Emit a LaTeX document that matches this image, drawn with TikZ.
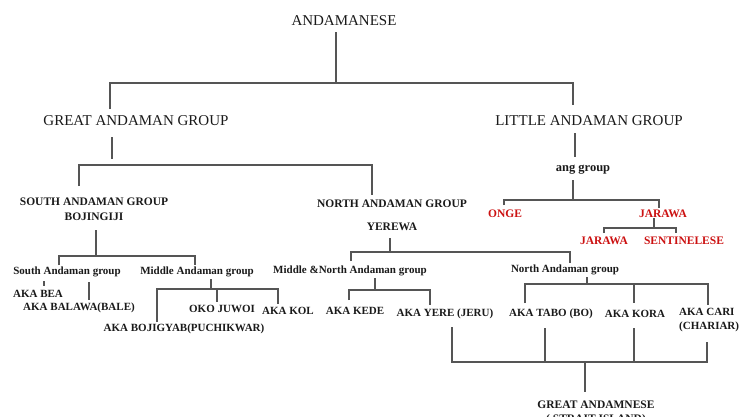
\documentclass[tikz,border=0pt]{standalone}
\usepackage{fontspec}
\setmainfont{Liberation Serif}
\definecolor{linegray}{HTML}{555555}
\definecolor{txt}{HTML}{1A1A1A}
\definecolor{redtxt}{HTML}{CC1111}
\begin{document}
\begin{tikzpicture}[x=1pt,y=-1pt,
  big/.style={inner sep=0pt,text=txt,font=\fontsize{15}{17}\selectfont},
  med/.style={inner sep=0pt,text=txt,font=\bfseries\fontsize{11.5}{15}\selectfont,align=center},
  sml/.style={inner sep=0pt,text=txt,font=\bfseries\fontsize{11}{14.5}\selectfont},
  redl/.style={inner sep=0pt,text=redtxt,font=\bfseries\fontsize{11.5}{14}\selectfont},
  conn/.style={draw=linegray,line width=1.1pt}]
\useasboundingbox[fill=white] (0,0) rectangle (742,416);
% ---- text nodes
\node[big] (a0) at (344,21) {ANDAMANESE};
\node[big] (g1) at (136,121) {GREAT ANDAMAN GROUP};
\node[big] (l1) at (589,121) {LITTLE ANDAMAN GROUP};
\node[med] (sa) at (94,209) {SOUTH ANDAMAN GROUP\\[0pt]BOJINGIJI};
\node[med] (na) at (392,215) {NORTH ANDAMAN GROUP\\[8pt]YEREWA};
\node[med,font=\bfseries\fontsize{12.5}{15}\selectfont] (ang) at (583,170) {ang group};
\node[redl] (onge) at (505,214) {ONGE};
\node[redl] (jar1) at (663,214) {JARAWA};
\node[redl] (jar2) at (604,241) {JARAWA};
\node[redl] (sent) at (684,241) {SENTINELESE};
\node[sml] (sag) at (67,272) {South Andaman group};
\node[sml] (mag) at (197,272) {Middle Andaman group};
\node[sml] (bea) at (38,294) {AKA BEA};
\node[sml] (bal) at (79,308) {AKA BALAWA(BALE)};
\node[sml] (boj) at (184,329) {AKA BOJIGYAB(PUCHIKWAR)};
\node[sml] (oko) at (222,309) {OKO JUWOI};
\node[sml] (kol) at (288,311) {AKA KOL};
\node[sml] (mng) at (350,271) {Middle \&North Andaman group};
\node[sml] (kede) at (355,311) {AKA KEDE};
\node[sml] (yere) at (445,314) {AKA YERE (JERU)};
\node[sml] (nag) at (565,270) {North Andaman group};
\node[sml] (tabo) at (551,314) {AKA TABO (BO)};
\node[sml] (kora) at (635,314) {AKA KORA};
\node[sml,align=left,anchor=west] (cari) at (679,320) {AKA CARI\\(CHARIAR)};
\node[med] (gan) at (596,413) {GREAT ANDAMNESE\\[-1pt]( STRAIT ISLAND)};
% ---- junction coordinates
\coordinate (a0d) at (336,32);   \coordinate (a0j) at (336,83);
\coordinate (b1l) at (110,83);   \coordinate (b1r) at (573,83);
\coordinate (g1u) at (110,109);  \coordinate (l1u) at (573,105);
\coordinate (g1d) at (112,137);  \coordinate (g1j) at (112,159);
\coordinate (b2l) at (79,165);   \coordinate (b2r) at (372,165);
\coordinate (sau) at (79,186);   \coordinate (nau) at (372,195);
\coordinate (l1d) at (575,133);  \coordinate (angu) at (575,157);
\coordinate (angd) at (573,180); \coordinate (angj) at (573,200);
\coordinate (b3l) at (504,200);  \coordinate (b3r) at (659,200);
\coordinate (ongeu) at (504,205); \coordinate (jar1u) at (659,208);
\coordinate (jar1d) at (654,218); \coordinate (jar1j) at (654,228);
\coordinate (b4l) at (604,228);  \coordinate (b4r) at (676,228);
\coordinate (jar2u) at (604,233); \coordinate (sentu) at (676,233);
\coordinate (sad) at (96,230);   \coordinate (saj) at (96,256);
\coordinate (b5l) at (59,256);   \coordinate (b5r) at (195,256);
\coordinate (sagu) at (59,265);  \coordinate (magu) at (195,265);
\coordinate (sagt1) at (44,281); \coordinate (beau) at (44,286);
\coordinate (sagt2) at (89,282); \coordinate (balu) at (89,300);
\coordinate (magd) at (211,279); \coordinate (magj) at (211,289);
\coordinate (b6l) at (157,289);  \coordinate (b6m) at (217,289); \coordinate (b6r) at (278,289);
\coordinate (boju) at (157,322); \coordinate (okou) at (217,302); \coordinate (kolu) at (278,304);
\coordinate (nad) at (390,238);  \coordinate (naj) at (390,252);
\coordinate (b7l) at (351,252);  \coordinate (b7r) at (570,252);
\coordinate (mngu) at (351,261); \coordinate (nagu) at (570,263);
\coordinate (mngd) at (375,278); \coordinate (mngj) at (375,290);
\coordinate (b8l) at (349,290);  \coordinate (b8r) at (430,290);
\coordinate (kedeu) at (349,300); \coordinate (yereu) at (430,305);
\coordinate (nagd) at (587,277); \coordinate (nagj) at (587,284);
\coordinate (b9l) at (525,284);  \coordinate (b9m) at (634,284); \coordinate (b9r) at (708,284);
\coordinate (tabou) at (525,303); \coordinate (korau) at (634,303); \coordinate (cariu) at (708,305);
\coordinate (yered) at (452,327); \coordinate (tabod) at (545,328);
\coordinate (korad) at (634,328); \coordinate (carid) at (707,342);
\coordinate (b10l) at (452,362); \coordinate (b10a) at (545,362);
\coordinate (b10b) at (634,362); \coordinate (b10r) at (707,362);
\coordinate (ganj) at (585,362); \coordinate (ganu) at (585,392);
% ---- connectors
\draw[conn] (a0d) -- (a0j);
\draw[conn] (g1u) -- (b1l) -- (b1r) -- (l1u);
\draw[conn] (g1d) -- (g1j);
\draw[conn] (sau) -- (b2l) -- (b2r) -- (nau);
\draw[conn] (l1d) -- (angu);
\draw[conn] (angd) -- (angj);
\draw[conn] (ongeu) -- (b3l) -- (b3r) -- (jar1u);
\draw[conn] (jar1d) -- (jar1j);
\draw[conn] (jar2u) -- (b4l) -- (b4r) -- (sentu);
\draw[conn] (sad) -- (saj);
\draw[conn] (sagu) -- (b5l) -- (b5r) -- (magu);
\draw[conn] (sagt1) -- (beau);
\draw[conn] (sagt2) -- (balu);
\draw[conn] (magd) -- (magj);
\draw[conn] (boju) -- (b6l) -- (b6r) -- (kolu);
\draw[conn] (b6m) -- (okou);
\draw[conn] (nad) -- (naj);
\draw[conn] (mngu) -- (b7l) -- (b7r) -- (nagu);
\draw[conn] (mngd) -- (mngj);
\draw[conn] (kedeu) -- (b8l) -- (b8r) -- (yereu);
\draw[conn] (nagd) -- (nagj);
\draw[conn] (tabou) -- (b9l) -- (b9r) -- (cariu);
\draw[conn] (b9m) -- (korau);
\draw[conn] (yered) -- (b10l) -- (b10r) -- (carid);
\draw[conn] (tabod) -- (b10a);
\draw[conn] (korad) -- (b10b);
\draw[conn] (ganj) -- (ganu);
\end{tikzpicture}
\end{document}
